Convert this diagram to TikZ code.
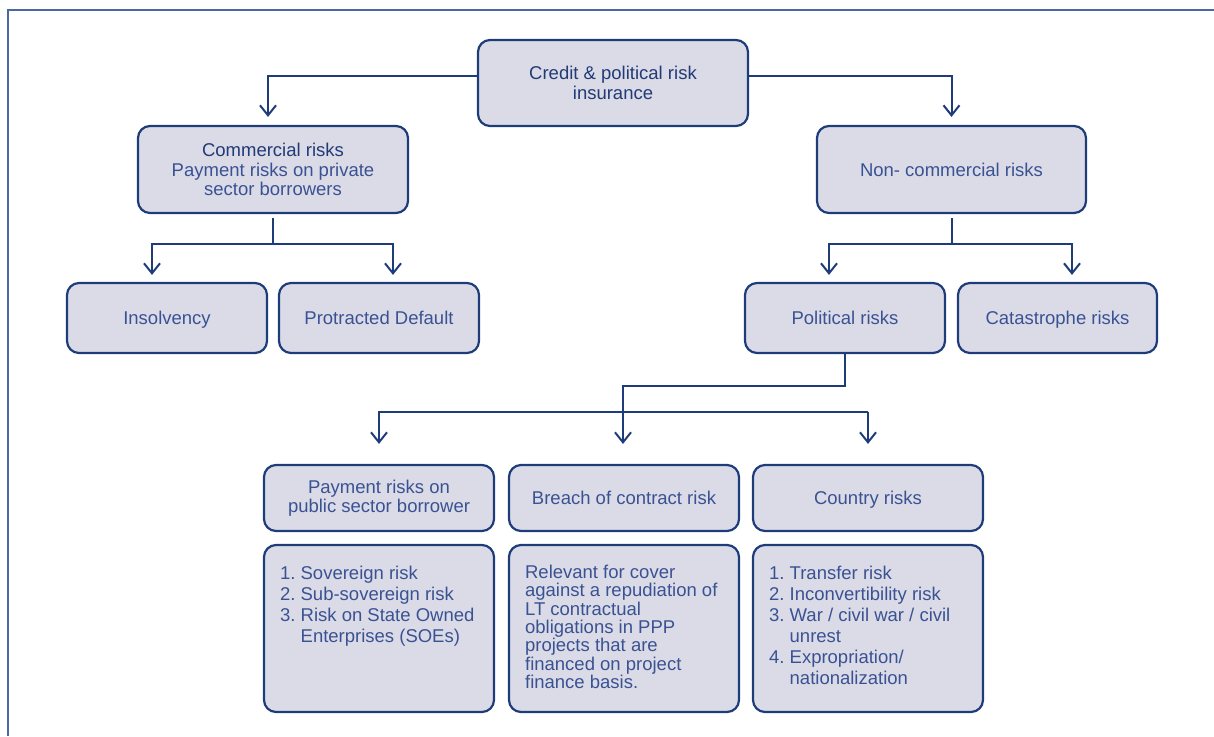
\documentclass[tikz,border=0pt]{standalone}
\usepackage{fontspec}
\setmainfont{Liberation Sans}
\usetikzlibrary{arrows.meta}
\definecolor{bd}{RGB}{31,60,122}
\definecolor{bg}{RGB}{218,219,231}
\definecolor{tl}{RGB}{58,82,146}
\definecolor{td}{RGB}{34,58,118}
\definecolor{fr}{RGB}{74,104,166}
\tikzset{
  box/.style={draw=bd, fill=bg, rounded corners=12pt, line width=2.2pt, inner sep=0pt, align=center, text=tl,
     font=\fontsize{18.5}{19.5}\selectfont},
  one/.style={text height=13pt, text depth=0pt},
  txt/.style={inner sep=0pt, align=left, text=tl},
  arr/.style={draw=bd, line width=2pt, -{Straight Barb[length=10pt,width=16pt]}},
  frame/.style={draw=fr, line width=1.4pt}
}
\begin{document}
\begin{tikzpicture}[x=1pt,y=-1pt]
\useasboundingbox (0,0) rectangle (1214,736);
\draw[frame] (8,736) -- (8,10) -- (1214,10);

% level 0
\node[box, minimum width=270pt, minimum height=86pt, text=td] (top) at (613,83) {Credit \& political risk\\insurance};
% level 1
\node[box, minimum width=270pt, minimum height=87pt] (com) at (273,169.5) {\textcolor{td}{Commercial risks}\\Payment risks on private\\sector borrowers};
\node[box, one, minimum width=269pt, minimum height=87pt] (nco) at (951.5,169.5) {Non- commercial risks};
% level 2
\node[box, one, minimum width=200pt, minimum height=70pt] (ins) at (167,318) {Insolvency};
\node[box, one, minimum width=200pt, minimum height=70pt] (pd) at (379,318) {Protracted Default};
\node[box, one, minimum width=200pt, minimum height=70pt] (pol) at (845,318) {Political risks};
\node[box, one, minimum width=199pt, minimum height=70pt] (cat) at (1057.5,318) {Catastrophe risks};
% level 3
\node[box, minimum width=230pt, minimum height=66pt, font=\fontsize{18.5}{19}\selectfont] (pay) at (379,498) {Payment risks on\\public sector borrower};
\node[box, one, minimum width=230pt, minimum height=66pt] (br) at (624,498) {Breach of contract risk};
\node[box, one, minimum width=230pt, minimum height=66pt] (cty) at (868,498) {Country risks};
% level 4
\node[box, minimum width=230pt, minimum height=167pt] (b1) at (379,628.5) {};
\node[box, minimum width=230pt, minimum height=167pt] (b2) at (624,628.5) {};
\node[box, minimum width=230pt, minimum height=167pt] (b3) at (868,628.5) {};

\node[txt, anchor=north west, font=\fontsize{18.5}{21}\selectfont] (t1) at ([xshift=17pt,yshift=-22pt]b1.north west)
 {1.\ Sovereign risk\\2.\ Sub-sovereign risk\\3.\ Risk on State Owned\\\hphantom{3.\ }Enterprises (SOEs)};
\node[txt, anchor=north west, font=\fontsize{18.5}{18.3}\selectfont] (t2) at ([xshift=17pt,yshift=-21pt]b2.north west)
 {Relevant for cover\\against a repudiation of\\LT contractual\\obligations in PPP\\projects that are\\financed on project\\finance basis.};
\node[txt, anchor=north west, font=\fontsize{18.5}{21}\selectfont] (t3) at ([xshift=17pt,yshift=-22pt]b3.north west)
 {1.\ Transfer risk\\2.\ Inconvertibility risk\\3.\ War / civil war / civil\\\hphantom{3.\ }unrest\\4.\ Expropriation/\\\hphantom{4.\ }nationalization};

% connectors
\draw[arr, shorten >=8pt] ([yshift=7pt]top.west) -| ([xshift=-5pt]com.north);
\draw[arr, shorten >=8pt] ([yshift=7pt]top.east) -| (nco.north);

\coordinate (cj) at (273,244);
\draw[arr, shorten >=7pt, shorten <=4pt] (com.south) -- (cj) -| ([xshift=-15pt]ins.north);
\draw[arr, shorten >=7pt] (cj) -| ([xshift=14pt]pd.north);

\coordinate (nj) at (951.5,244);
\draw[arr, shorten >=7pt, shorten <=4pt] (nco.south) -- (nj) -| ([xshift=-16pt]pol.north);
\draw[arr, shorten >=7pt] (nj) -| ([xshift=14.5pt]cat.north);

\draw[arr, shorten >=20pt] (pol.south) -- ++(0,32) -| ([xshift=-1pt]br.north);
\coordinate (hr) at (868,412);
\draw[arr, shorten >=20pt] (hr) -| (pay.north);
\draw[arr, shorten >=20pt] (hr) -- (cty.north);
\end{tikzpicture}
\end{document}
